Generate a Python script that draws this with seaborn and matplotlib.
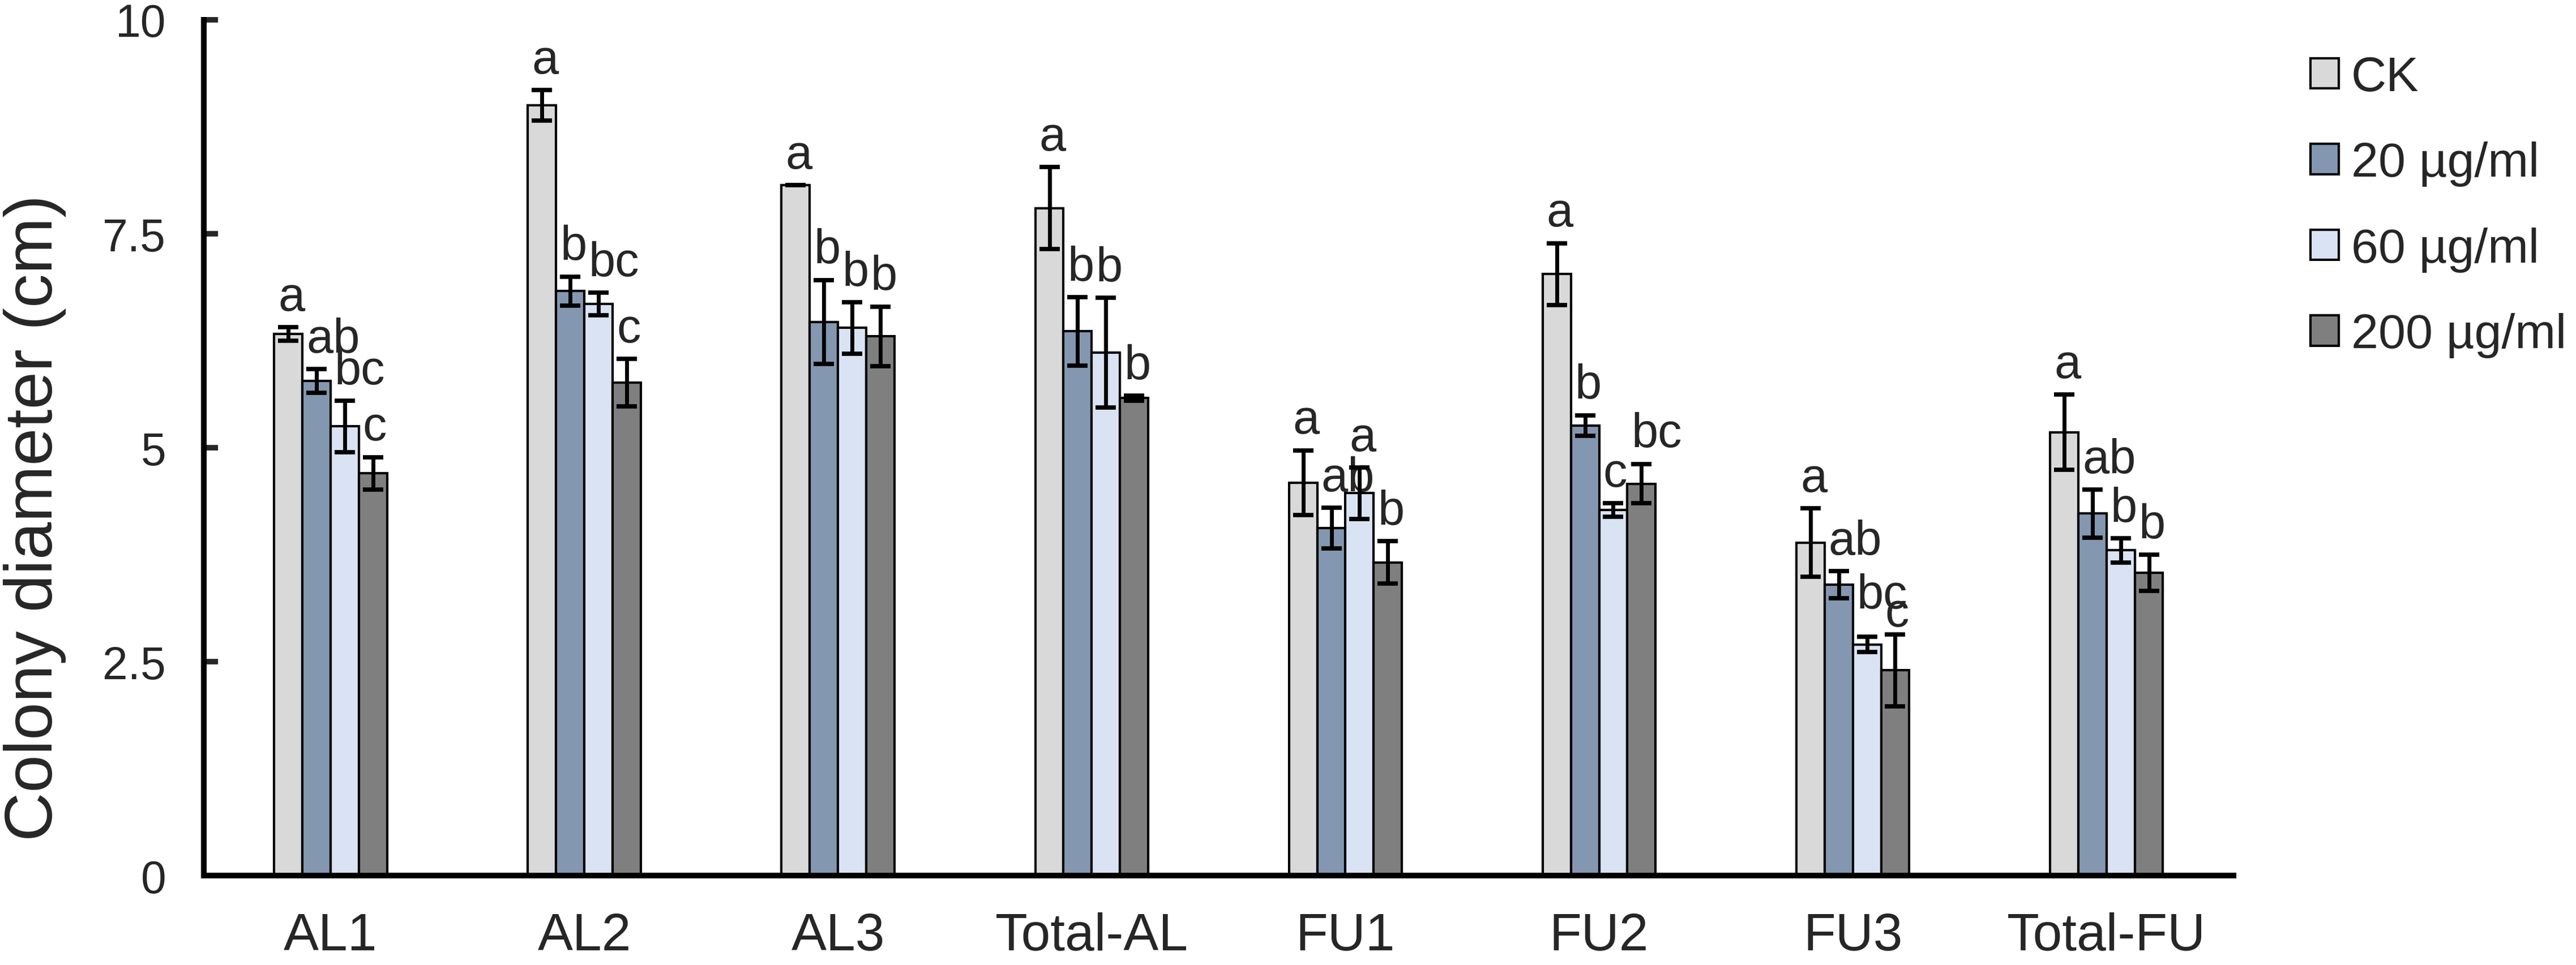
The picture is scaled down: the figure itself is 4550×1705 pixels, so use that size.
import numpy as np
import pandas as pd
import matplotlib
matplotlib.use("Agg")
import matplotlib.pyplot as plt
import seaborn as sns
from matplotlib.patches import Patch

# colony diameter (cm) per strain, mean and error
strains = ["AL1", "AL2", "AL3", "Total-AL", "FU1", "FU2", "FU3", "Total-FU"]
doses = ["CK", "20 µg/ml", "60 µg/ml", "200 µg/ml"]

ck_mean = [6.33, 9.00, 8.07, 7.80, 4.59, 7.03, 3.89, 5.18]
ck_err = [0.08, 0.18, 0.0, 0.48, 0.38, 0.36, 0.40, 0.44]
d20_mean = [5.78, 6.83, 6.47, 6.36, 4.06, 5.26, 3.40, 4.23]
d20_err = [0.14, 0.17, 0.49, 0.40, 0.24, 0.12, 0.16, 0.28]
d60_mean = [5.25, 6.68, 6.40, 6.11, 4.47, 4.27, 2.70, 3.80]
d60_err = [0.30, 0.13, 0.30, 0.64, 0.30, 0.08, 0.09, 0.14]
d200_mean = [4.70, 5.76, 6.30, 5.58, 3.66, 4.58, 2.40, 3.54]
d200_err = [0.19, 0.28, 0.35, 0.03, 0.25, 0.23, 0.42, 0.21]

ck_sig = ["a", "a", "a", "a", "a", "a", "a", "a"]
d20_sig = ["ab", "b", "b", "b", "ab", "b", "ab", "ab"]
d60_sig = ["bc", "bc", "b", "b", "a", "c", "bc", "b"]
d200_sig = ["c", "c", "b", "b", "b", "bc", "c", "b"]

colors = ["#d9d9d9", "#8497b0", "#dae3f3", "#7f7f7f"]

means = [ck_mean, d20_mean, d60_mean, d200_mean]
errs = [ck_err, d20_err, d60_err, d200_err]
sigs = [ck_sig, d20_sig, d60_sig, d200_sig]

# small manual nudges for crowded letters (strain, dose) -> extra height
nudge = {("FU3", "60 µg/ml"): 0.14, ("FU3", "200 µg/ml"): -0.1}

rows = []
for d, m in zip(doses, means):
    for s, v in zip(strains, m):
        rows.append({"strain": s, "dose": d, "mean": v})
df = pd.DataFrame(rows)

sns.set_style("white")
plt.rcParams["font.family"] = ["Liberation Sans", "DejaVu Sans"]

fig = plt.figure(figsize=(45.5, 17.06), dpi=100)
ax = fig.add_axes([0.0791, 0.0926, 0.7879, 0.8863])

sns.barplot(data=df, x="strain", y="mean", hue="dose", order=strains,
            hue_order=doses, palette=colors, saturation=1, width=0.445,
            errorbar=None, edgecolor="black", linewidth=3, legend=False, ax=ax)

for cont, d, m, e, sg in zip(ax.containers, doses, means, errs, sigs):
    xs = [b.get_x() + b.get_width() / 2 for b in cont]
    ax.errorbar(xs, m, yerr=e, fmt="none", ecolor="black", elinewidth=5,
                capsize=13, capthick=5.5, zorder=5)
    # significance letters sit just above each error bar
    for s, x, v, er, t in zip(strains, xs, m, e, sg):
        lift = nudge.get((s, d), 0)
        ax.text(x - 0.04, v + er + 0.2 + lift, t, ha="left", va="baseline",
                fontsize=61)

ax.set_xlim(-0.5, 7.5)
ax.set_ylim(0, 10)
ax.set_yticks([0, 2.5, 5, 7.5, 10])
ax.set_yticklabels(["0", "2.5", "5", "7.5", "10"])
ax.set_xticks(range(len(strains)))
ax.set_xticklabels(strains)
ax.set_xticks(np.arange(-0.5, len(strains), 1), minor=True)
ax.tick_params(axis="x", which="major", length=0, pad=46, labelsize=67)
ax.tick_params(axis="x", which="minor", direction="in", length=19, width=7)
ax.tick_params(axis="y", direction="in", length=18, width=7, pad=48,
               labelsize=58, left=True)

sns.despine(ax=ax)
for sp in ["left", "bottom"]:
    ax.spines[sp].set_linewidth(7.2)
    ax.spines[sp].set_color("black")

ax.set_xlabel("")
ax.set_ylabel("Colony diameter (cm)", fontsize=86)
ax.yaxis.set_label_coords(-0.0678, 0.419)

handles = [Patch(facecolor=c, edgecolor="black", linewidth=3, label=d)
           for c, d in zip(colors, doses)]
fig.legend(handles=handles, loc="upper left", bbox_to_anchor=(0.897, 0.942),
           frameon=False, fontsize=62, handlelength=0.58, handleheight=0.58,
           handletextpad=0.25, labelspacing=0.83, borderpad=0, borderaxespad=0)

fig.savefig("out.png", dpi=100, facecolor="white")
